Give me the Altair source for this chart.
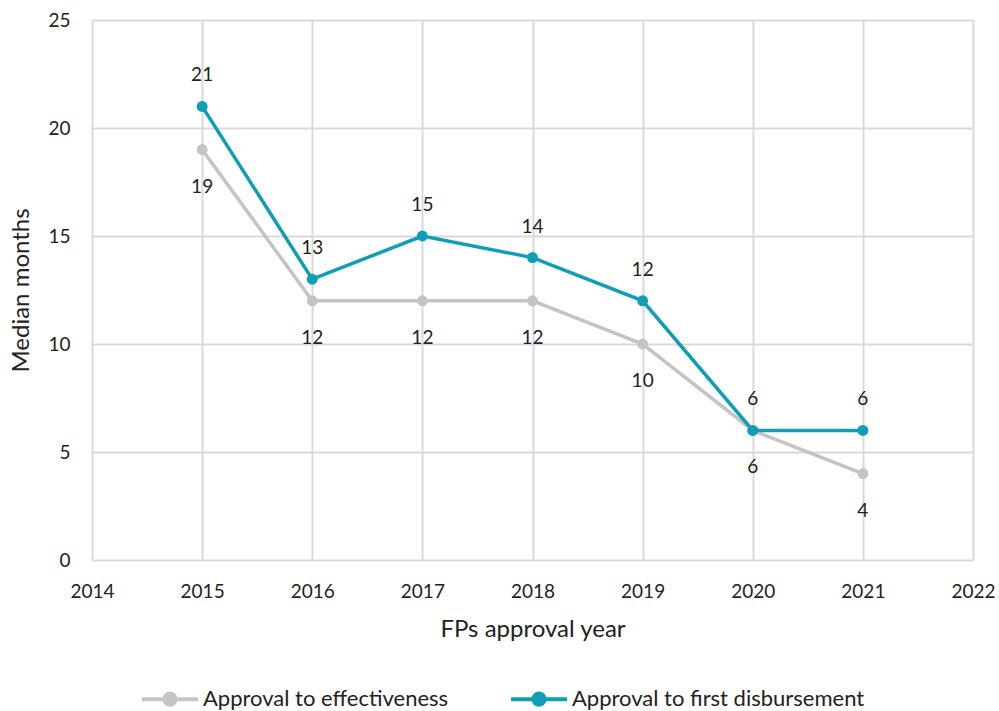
import altair as alt
import pandas as pd

years = [2015, 2016, 2017, 2018, 2019, 2020, 2021]
effectiveness = [19, 12, 12, 12, 10, 6, 4]
disbursement = [21, 13, 15, 14, 12, 6, 6]
series_names = ["Approval to effectiveness", "Approval to first disbursement"]
series_colors = ["#C4C4C4", "#0E9EB5"]

rows = []
for y, v in zip(years, effectiveness):
    rows.append({"year": y, "months": v, "series": series_names[0]})
for y, v in zip(years, disbursement):
    rows.append({"year": y, "months": v, "series": series_names[1]})
df = pd.DataFrame(rows)

FONT = "Lato"

x = alt.X("year:Q", title="FPs approval year",
          scale=alt.Scale(domain=[2014, 2022], nice=False, zero=False),
          axis=alt.Axis(values=list(range(2014, 2023)), format="d", labelFlush=False))
y = alt.Y("months:Q", title="Median months",
          scale=alt.Scale(domain=[0, 25], nice=False),
          axis=alt.Axis(values=[0, 5, 10, 15, 20, 25], labelFlush=False))
color = alt.Color("series:N",
                  scale=alt.Scale(domain=series_names, range=series_colors),
                  legend=alt.Legend(
                      title=None, orient="none", direction="horizontal",
                      legendX=48, legendY=649,
                      symbolType="M-1,0L1,0M-0.2,0A0.2,0.2,0,1,1,0.2,0A0.2,0.2,0,1,1,-0.2,0Z",
                      symbolSize=3136, symbolStrokeWidth=4,
                      labelFontSize=22, labelFont=FONT, labelColor="#222222",
                      labelOffset=3, columnPadding=54, labelLimit=400))

base = alt.Chart(df)
lines = base.mark_line(strokeWidth=3.5).encode(x=x, y=y, color=color)
points = base.mark_point(filled=True, size=120, opacity=1).encode(x=x, y=y, color=color)

lab_eff = base.transform_filter(alt.datum.series == series_names[0]).mark_text(
    dy=37, fontSize=19, font=FONT, color="#222222").encode(x=x, y=y, text="months:Q")
lab_dis = base.transform_filter(alt.datum.series == series_names[1]).mark_text(
    dy=-31, fontSize=19, font=FONT, color="#222222").encode(x=x, y=y, text="months:Q")

chart = alt.layer(lines, points, lab_eff, lab_dis).properties(
    width=881, height=540,
    autosize=alt.AutoSizeParams(type="none"),
    padding={"left": 92, "top": 20, "right": 26, "bottom": 151},
).configure_view(stroke=None).configure_axis(
    grid=True, gridColor="#D9D9D9", gridWidth=2,
    domain=False, ticks=False,
    labelFont=FONT, labelFontSize=19, labelColor="#222222",
    titleFont=FONT, titleFontSize=24, titleColor="#222222", titleFontWeight="normal",
).configure_axisX(labelPadding=22, titlePadding=16).configure_axisY(labelPadding=22, titlePadding=14)

chart.save("out.html", embed_options={"renderer": "svg", "actions": False})
